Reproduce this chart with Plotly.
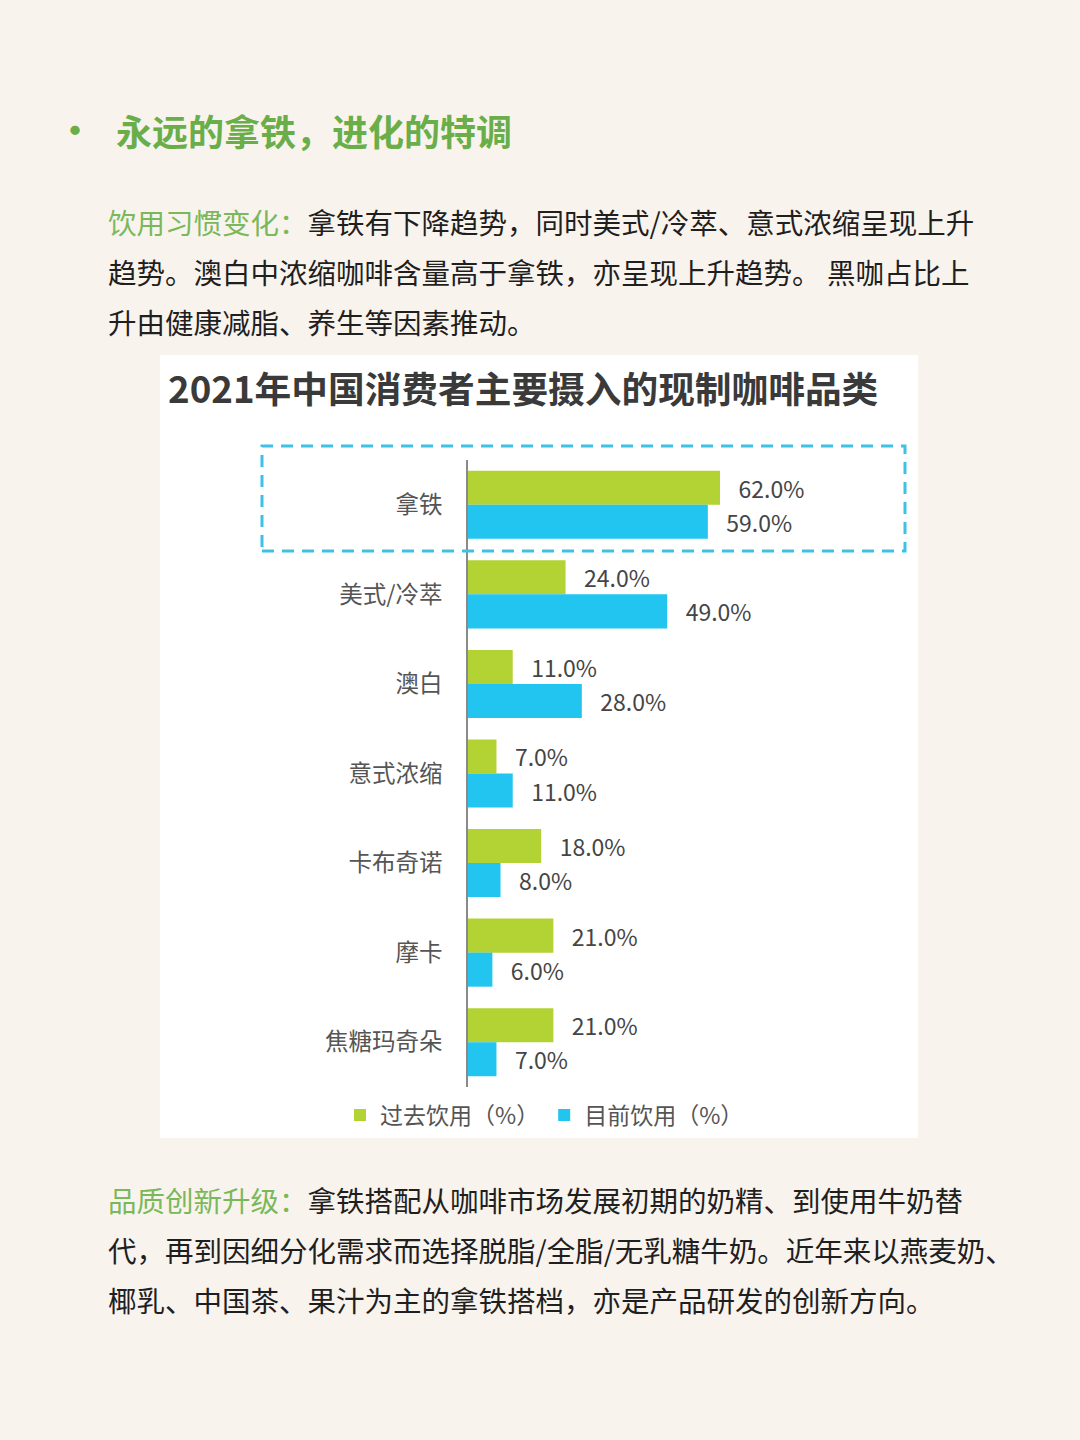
import plotly.graph_objects as go

categories = ["拿铁", "美式/冷萃", "澳白", "意式浓缩", "卡布奇诺", "摩卡", "焦糖玛奇朵"]
past_values = [62.0, 24.0, 11.0, 7.0, 18.0, 21.0, 21.0]
current_values = [59.0, 49.0, 28.0, 11.0, 8.0, 6.0, 7.0]
series_names = ["过去饮用（%）", "目前饮用（%）"]

chart_title = "2021年中国消费者主要摄入的现制咖啡品类"
header = "永远的拿铁，进化的特调"
para1_label = "饮用习惯变化："
para1_lines = [
    "拿铁有下降趋势，同时美式/冷萃、意式浓缩呈现上升",
    "趋势。澳白中浓缩咖啡含量高于拿铁，亦呈现上升趋势。 黑咖占比上",
    "升由健康减脂、养生等因素推动。",
]
para2_label = "品质创新升级："
para2_lines = [
    "拿铁搭配从咖啡市场发展初期的奶精、到使用牛奶替",
    "代，再到因细分化需求而选择脱脂/全脂/无乳糖牛奶。近年来以燕麦奶、",
    "椰乳、中国茶、果汁为主的拿铁搭档，亦是产品研发的创新方向。",
]

W, H = 1080, 1440
BG = "#f9f3ee"
GREEN = "#b3d234"
BLUE = "#22c5ef"
HEAD_GREEN = "#6aae4a"
LABEL_GREEN = "#7ab85a"
FONT = "Noto Sans CJK SC"

def px(x):
    return x / W

def py(y):
    return 1 - y / H

NB = "\u00a0\u00a0\u00a0"

fig = go.Figure()
fig.add_trace(go.Bar(
    y=categories, x=past_values, orientation="h", name=series_names[0],
    marker=dict(color=GREEN, line=dict(width=0)),
    texttemplate=NB + "%{x:.1f}%", textposition="outside", cliponaxis=False,
    constraintext="none",
    textfont=dict(family=FONT, size=23, color="#454545"),
))
fig.add_trace(go.Bar(
    y=categories, x=current_values, orientation="h", name=series_names[1],
    marker=dict(color=BLUE, line=dict(width=0)),
    texttemplate=NB + "%{x:.1f}%", textposition="outside", cliponaxis=False,
    constraintext="none",
    textfont=dict(family=FONT, size=23, color="#454545"),
))

annotations = []
# header
annotations.append(dict(x=px(75), y=py(128), xref="paper", yref="paper", text="•",
                        showarrow=False, xanchor="center", yanchor="middle",
                        font=dict(family=FONT, size=44, color=HEAD_GREEN)))
annotations.append(dict(x=px(114), y=py(130), xref="paper", yref="paper",
                        text="<b>" + header + "</b>",
                        showarrow=False, xanchor="left", yanchor="middle",
                        font=dict(family=FONT, size=36, color=HEAD_GREEN)))

def para(label, lines, ys):
    for i, (line, y) in enumerate(zip(lines, ys)):
        if i == 0:
            txt = "<span style='color:%s'>%s</span>%s" % (LABEL_GREEN, label, line)
        else:
            txt = line
        annotations.append(dict(x=px(106), y=py(y), xref="paper", yref="paper", text=txt,
                                showarrow=False, xanchor="left", yanchor="middle",
                                font=dict(family=FONT, size=28.5, color="#1f1f1f")))

para(para1_label, para1_lines, [221, 271, 321])
para(para2_label, para2_lines, [1199, 1249, 1299])

# chart title
annotations.append(dict(x=px(166), y=py(387), xref="paper", yref="paper",
                        text="<b>" + chart_title + "</b>",
                        showarrow=False, xanchor="left", yanchor="middle",
                        font=dict(family=FONT, size=36.7, color="#3a3a3a")))

shapes = [
    dict(type="rect", xref="paper", yref="paper", x0=px(160), x1=px(918),
         y0=py(1138), y1=py(355), fillcolor="white", line=dict(width=0), layer="below"),
    dict(type="rect", xref="paper", yref="paper", x0=px(262), x1=px(905),
         y0=py(551), y1=py(446), fillcolor="rgba(0,0,0,0)",
         line=dict(color="#3ec1e4", width=3, dash="12px,8px"), layer="above"),
]

fig.update_layout(
    width=W, height=H, autosize=False,
    margin=dict(l=0, r=0, t=0, b=0),
    paper_bgcolor=BG, plot_bgcolor="rgba(0,0,0,0)",
    barmode="group", bargap=0.24, bargroupgap=0,
    font=dict(family=FONT),
    xaxis=dict(domain=[px(468), px(874.5)], range=[0, 100], visible=False, fixedrange=True),
    yaxis=dict(domain=[py(1087), py(460)], categoryorder="array", categoryarray=categories,
               autorange="reversed", showline=True, linecolor="#8a8a8a", linewidth=1.5,
               ticks="", showgrid=False, zeroline=False, ticklabelstandoff=19,
               tickfont=dict(family=FONT, size=23.5, color="#555555")),
    legend=dict(orientation="h", x=px(340), y=py(1115), xanchor="left", yanchor="middle",
                font=dict(family=FONT, size=23, color="#555555"),
                bgcolor="rgba(0,0,0,0)", traceorder="normal", itemwidth=30),
    annotations=annotations,
    shapes=shapes,
)

fig.write_html(
    "out.html",
    config={"displayModeBar": False},
    post_script="document.body.style.margin='0';document.body.style.background='%s';" % BG,
)
